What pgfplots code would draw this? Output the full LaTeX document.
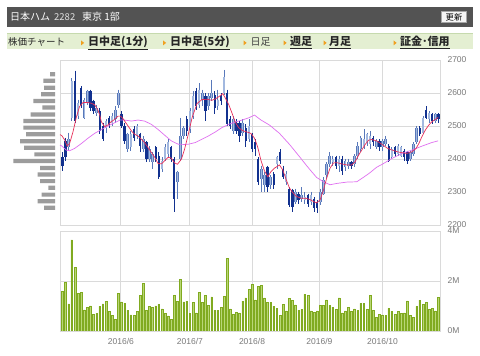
\documentclass[border=0pt]{standalone}
\usepackage{fontspec}
\setmainfont{Liberation Sans}
\newfontfamily\cjk{Noto Sans CJK JP}
\usepackage{pgfplots}
\usepackage{pgfplotstable}
\pgfplotsset{compat=1.18}

\definecolor{hdr}{HTML}{535353}
\definecolor{menubg}{HTML}{E4EFD2}
\definecolor{menuln}{HTML}{C6DAAE}
\definecolor{arrowc}{HTML}{F0A020}
\definecolor{gridc}{HTML}{DADADA}
\definecolor{tickc}{HTML}{7A7A7A}
\definecolor{upc}{HTML}{A2B8DF}
\definecolor{upw}{HTML}{5878BA}
\definecolor{dnc}{HTML}{12318F}
\definecolor{ma5}{HTML}{E8305A}
\definecolor{ma25}{HTML}{E070F0}
\definecolor{volf}{HTML}{B9D676}
\definecolor{vold}{HTML}{80AA20}
\definecolor{histc}{HTML}{9C9C9C}

\pgfplotstableread{
i O H L C
2 2435 2480 2425 2460
3 2525 2645 2515 2635
5 2530 2580 2520 2570
7 2525 2585 2520 2580
8 2570 2610 2565 2605
11 2540 2565 2530 2555
14 2495 2520 2480 2515
16 2510 2540 2500 2530
17 2520 2560 2510 2550
18 2565 2610 2555 2600
21 2430 2480 2420 2475
22 2435 2485 2425 2475
24 2470 2505 2460 2500
26 2430 2470 2420 2460
28 2400 2440 2390 2430
29 2390 2420 2370 2415
32 2370 2405 2360 2395
33 2400 2445 2395 2435
34 2415 2460 2405 2450
37 2330 2365 2280 2360
38 2400 2525 2395 2470
39 2470 2500 2460 2495
41 2490 2555 2480 2545
42 2530 2605 2520 2590
44 2565 2630 2555 2610
45 2580 2610 2560 2600
47 2560 2600 2550 2590
48 2585 2640 2575 2600
50 2560 2610 2550 2580
52 2600 2670 2595 2650
55 2485 2530 2475 2520
58 2480 2520 2470 2510
60 2460 2520 2450 2500
64 2340 2380 2300 2370
65 2320 2360 2300 2350
67 2320 2350 2310 2345
69 2385 2410 2370 2405
72 2330 2365 2320 2355
75 2270 2310 2265 2300
77 2280 2315 2270 2290
78 2275 2300 2265 2285
80 2270 2300 2260 2290
83 2270 2310 2260 2300
84 2295 2345 2290 2335
85 2350 2390 2340 2385
86 2385 2420 2375 2410
87 2390 2410 2380 2400
89 2380 2410 2360 2400
91 2375 2400 2365 2395
92 2380 2400 2370 2390
94 2385 2415 2375 2410
95 2410 2450 2400 2440
96 2430 2470 2420 2465
97 2440 2490 2430 2460
98 2450 2480 2440 2475
99 2445 2485 2430 2470
101 2435 2460 2430 2455
103 2435 2460 2425 2455
104 2445 2470 2440 2460
106 2405 2435 2400 2430
108 2415 2445 2410 2440
109 2410 2440 2405 2435
112 2400 2425 2395 2420
113 2415 2450 2410 2445
114 2450 2500 2445 2495
116 2480 2530 2475 2525
118 2520 2545 2510 2540
120 2515 2540 2510 2535
}\uptab

\pgfplotstableread{
i O H L C
0 2405 2420 2365 2380
1 2455 2465 2395 2405
4 2635 2668 2510 2515
6 2615 2620 2555 2565
9 2605 2610 2545 2555
10 2575 2580 2535 2545
12 2545 2555 2475 2485
13 2500 2510 2455 2460
15 2525 2530 2495 2505
19 2535 2545 2495 2500
20 2500 2510 2445 2455
23 2490 2500 2455 2465
25 2475 2480 2420 2440
27 2450 2455 2390 2400
30 2435 2440 2390 2400
31 2410 2420 2340 2345
35 2435 2440 2390 2400
36 2400 2405 2240 2280
40 2520 2530 2470 2485
43 2605 2615 2550 2560
46 2590 2600 2515 2545
49 2595 2605 2535 2555
51 2590 2600 2565 2575
53 2600 2610 2500 2505
54 2520 2530 2490 2500
56 2510 2520 2475 2485
57 2510 2515 2450 2470
59 2495 2505 2435 2455
61 2475 2480 2420 2430
62 2450 2460 2410 2430
63 2400 2405 2320 2330
66 2375 2380 2300 2315
68 2355 2360 2310 2320
70 2420 2430 2385 2395
71 2370 2380 2340 2345
73 2310 2315 2255 2260
74 2305 2310 2240 2255
76 2295 2300 2265 2275
79 2290 2295 2255 2265
81 2280 2285 2240 2250
82 2270 2275 2235 2250
88 2405 2410 2370 2380
90 2400 2410 2350 2365
93 2390 2395 2370 2380
100 2465 2470 2440 2450
102 2455 2460 2425 2435
105 2440 2445 2390 2395
107 2435 2440 2405 2415
110 2425 2430 2395 2405
111 2420 2425 2385 2395
115 2495 2500 2470 2475
117 2550 2560 2520 2525
119 2535 2540 2505 2515
121 2535 2540 2510 2520
}\dntab

\pgfplotstableread{
i v
0 1.59
1 1.94
2 1.08
3 3.64
4 2.54
5 1.50
6 1.55
7 0.84
8 0.95
9 1.00
10 0.67
11 0.70
12 0.98
13 1.08
14 1.19
15 0.79
16 0.63
17 0.45
18 1.50
19 1.16
20 1.11
21 0.83
22 0.64
23 0.63
24 0.79
25 1.42
26 1.91
27 0.83
28 0.98
29 0.95
30 1.00
31 1.06
32 0.88
33 0.70
34 0.60
35 0.45
36 1.42
37 1.19
38 2.05
39 1.16
40 1.19
41 0.71
42 1.14
43 0.72
44 1.55
45 1.15
46 1.43
47 1.03
48 1.36
49 0.83
50 0.83
51 0.95
52 1.39
53 2.90
54 0.88
55 0.66
56 0.74
57 0.72
58 1.19
59 1.32
60 1.67
61 1.86
62 1.24
63 1.77
64 1.82
65 1.32
66 1.15
67 1.14
68 0.99
69 0.91
70 0.63
71 1.06
72 0.80
73 1.30
74 1.22
75 1.04
76 0.83
77 0.86
78 1.46
79 1.43
80 0.80
81 0.74
82 0.80
83 1.02
84 1.02
85 1.24
86 1.03
87 0.95
88 0.86
89 1.32
90 0.72
91 0.80
92 0.94
93 0.78
94 0.88
95 0.82
96 1.10
97 1.11
98 0.86
99 1.42
100 0.83
101 0.55
102 0.66
103 0.64
104 0.62
105 0.90
106 0.78
107 0.67
108 0.78
109 0.70
110 0.72
111 1.20
112 0.62
113 0.55
114 0.98
115 1.23
116 1.06
117 1.14
118 0.86
119 0.91
120 0.80
121 1.34
}\voltab

\pgfplotstableread{
p len
2657 5.0
2637 11.7
2616 11.0
2596 14.0
2576 21.7
2556 12.7
2535 24.3
2515 31.7
2495 31.7
2475 29.0
2454 35.0
2434 31.0
2414 20.7
2394 41.7
2373 15.0
2353 17.3
2333 15.0
2313 6.7
2292 13.3
2272 17.3
2252 11.0
}\histtab

\pgfplotsset{chart/.style={
  scale only axis, width=380pt,
  xmin=-0.8, xmax=121.5,
  axis line style={draw=gridc, line width=0.8pt},
  grid=major, grid style={draw=gridc, line width=0.8pt},
  major tick length=0pt, tick style={draw=none},
  ticklabel style={font=\fontsize{8.5}{10}\selectfont, text=tickc},
  xtick={18.8,41,61,82.7,103},
  yticklabel pos=right,
  yticklabel style={xshift=4pt},
},
candle/.style={draw=none, mark=none, forget plot, error bars/.cd, y dir=minus, y explicit, error mark=none}}

\begin{document}
\begin{tikzpicture}
\path[use as bounding box, fill=white] (0pt,0pt) rectangle (480pt,356pt);
% header
\fill[hdr] (7pt,329pt) rectangle (473pt,349pt);
\node[anchor=base west, inner sep=0, text=white, font=\cjk\fontsize{10}{12}\selectfont] at (10pt,335.5pt) {日本ハム};
\node[anchor=base west, inner sep=0, text=white!88!black, font=\cjk\fontsize{9.5}{11}\selectfont] at (54pt,335.5pt) {2282};
\node[anchor=base west, inner sep=0, text=white, font=\cjk\fontsize{10}{12}\selectfont] at (82pt,335.5pt) {東京 1部};
\filldraw[fill=white!96!black, draw=white!65!black, line width=0.6pt] (441.5pt,333.5pt) rectangle (466.5pt,344.5pt);
\node[inner sep=0, text=black, font=\cjk\fontsize{8.3}{10}\selectfont] at (454pt,339pt) {更新};
% menu
\fill[menubg] (7pt,307pt) rectangle (473pt,323pt);
\draw[menuln, line width=1.5pt] (7pt,322.5pt) -- (473pt,322.5pt);
\node[anchor=base west, inner sep=0, text=black!85, font=\cjk\fontsize{9.5}{11}\selectfont] at (8pt,310.3pt) {株価チャート};
\foreach \ax in {81,163,243.5,283.5,323.5,393.5} {
  \fill[arrowc] (\ax pt,310.6pt) -- (\ax pt+3.2pt,313.1pt) -- (\ax pt,315.6pt) -- cycle;
}
\node[anchor=base west, inner sep=0, text=black!85, font=\cjk\bfseries\fontsize{11}{12}\selectfont] at (88pt,310.3pt) {\underline{日中足(1分)}};
\node[anchor=base west, inner sep=0, text=black!85, font=\cjk\bfseries\fontsize{11}{12}\selectfont] at (170pt,310.3pt) {\underline{日中足(5分)}};
\node[anchor=base west, inner sep=0, text=black!75, font=\cjk\fontsize{10}{12}\selectfont] at (250.5pt,310.3pt) {日足};
\node[anchor=base west, inner sep=0, text=black!85, font=\cjk\bfseries\fontsize{11}{12}\selectfont] at (290pt,310.3pt) {\underline{週足}};
\node[anchor=base west, inner sep=0, text=black!85, font=\cjk\bfseries\fontsize{11}{12}\selectfont] at (329pt,310.3pt) {\underline{月足}};
\node[anchor=base west, inner sep=0, text=black!85, font=\cjk\bfseries\fontsize{11}{12}\selectfont] at (400pt,310.3pt) {\underline{証金･信用}};

% volume-by-price histogram
\begin{axis}[at={(5pt,131pt)}, anchor=south west, scale only axis, width=50pt, height=165pt,
  xmin=0, xmax=50, x dir=reverse, ymin=2200, ymax=2700, hide axis,
  xbar, bar width=4.2pt, bar shift=0pt]
\addplot[fill=histc, draw=none] table[x=len, y=p] {\histtab};
\end{axis}

% price chart
\begin{axis}[chart, at={(60pt,131pt)}, anchor=south west, height=165pt,
  ymin=2200, ymax=2700, ytick={2200,2300,2400,2500,2600,2700},
  yticklabels={2200,2300,2400,2500,2600,2700}, xticklabels={}]
\addplot[candle, error bar style={draw=upw, line width=0.7pt}]
  table[x=i, y=H, y error minus expr=\thisrow{H}-\thisrow{L}] {\uptab};
\addplot[candle, error bar style={draw=dnc, line width=0.7pt}]
  table[x=i, y=H, y error minus expr=\thisrow{H}-\thisrow{L}] {\dntab};
\addplot[candle, error bar style={draw=upw, line width=2.5pt}]
  table[x=i, y=C, y error minus expr=\thisrow{C}-\thisrow{O}] {\uptab};
\addplot[candle, error bar style={draw=upc, line width=1.4pt}]
  table[x=i, y=C, y error minus expr=\thisrow{C}-\thisrow{O}] {\uptab};
\addplot[candle, error bar style={draw=dnc, line width=2.3pt}]
  table[x=i, y=O, y error minus expr=\thisrow{O}-\thisrow{C}] {\dntab};
% 25-day MA
\addplot[ma25, line width=0.7pt, mark=none] coordinates {
(-0.8,2442) (-0.16,2439) (1.2,2427) (2.3,2425) (3.9,2432) (6.1,2447) (8.2,2463) (10.4,2478)
(12.5,2489) (14.6,2500) (16.8,2510) (18.5,2518) (20,2518) (22.2,2515) (24.3,2518) (26.4,2515)
(28.6,2505) (30.7,2490) (32.9,2472) (35.0,2455) (37.2,2445) (39.3,2444) (40.6,2445) (42.8,2450)
(44.9,2460) (47.0,2470) (49.2,2482) (51.3,2495) (53.5,2505) (55.6,2512) (57.8,2518) (60.0,2525)
(61.8,2533) (63.9,2518) (66.6,2503) (69.8,2478) (73.0,2445) (76.2,2408) (78.4,2382) (79.7,2367)
(81.8,2344) (84.0,2331) (86.1,2322) (88.3,2326) (91.5,2330) (94.7,2331) (96.8,2344) (98.9,2358)
(101.1,2375) (102.9,2384) (106.1,2402) (109.3,2417) (112.5,2427) (115.7,2439) (118.9,2450) (120.9,2455)};
% 5-day MA
\addplot[ma5, line width=0.7pt, mark=none] coordinates {
(-0.8,2474) (-0.16,2470) (0.7,2458) (1.5,2439) (2.3,2447) (3.4,2483) (4.5,2528) (5.5,2559) (6.6,2571)
(8.2,2571) (9.3,2569) (10.4,2564) (11.4,2548) (12,2533) (12.5,2513) (13.6,2498) (14.6,2503)
(15.7,2513) (16.8,2520) (17.9,2530) (18.7,2530) (19.5,2522) (21.1,2500) (22.2,2485) (23.2,2475)
(24.3,2470) (25.4,2460) (26.4,2450) (27.5,2435) (28.6,2420) (29.7,2405) (30.7,2387) (31.8,2385)
(32.9,2395) (34.0,2405) (35.0,2403) (36.1,2388) (37.0,2384) (38.3,2400) (39.3,2430) (40.5,2475)
(41.7,2525) (43.3,2568) (44.9,2580) (46.5,2581) (48.1,2578) (49.2,2582) (50.5,2590) (51.6,2598)
(52.4,2585) (53.5,2565) (54.6,2538) (55.6,2512) (56.7,2495) (57.8,2487) (58.9,2483) (60.0,2480)
(60.7,2477) (61.8,2463) (62.8,2437) (63.9,2395) (65.0,2364) (66.1,2346) (67.1,2362) (68.2,2372)
(69.8,2382) (70.9,2367) (71.9,2340) (73.0,2313) (74.1,2298) (75.2,2287) (76.8,2281) (78.4,2281)
(79.7,2277) (80.8,2271) (81.8,2267) (82.9,2276) (84.0,2306) (85.0,2341) (86.1,2372) (87.2,2388)
(88.3,2389) (89.9,2385) (91.5,2382) (93.1,2382) (94.2,2392) (95.2,2410) (96.3,2427) (97.4,2444)
(98.5,2457) (99.5,2459) (101.1,2455) (102.9,2444) (104.5,2433) (106.1,2427) (107.7,2422)
(109.3,2419) (110.9,2417) (112.5,2422) (113.8,2432) (114.7,2447) (115.7,2468) (116.8,2488)
(117.9,2503) (118.9,2513) (120.0,2520) (120.9,2526)};
\end{axis}

% volume chart
\begin{axis}[chart, at={(60pt,25pt)}, anchor=south west, height=100pt,
  ymin=0, ymax=4, ytick={0,2,4}, yticklabels={0M,2M,4M},
  xticklabels={2016/6,2016/7,2016/8,2016/9,2016/10},
  xticklabel style={yshift=-3.5pt},
  ybar, bar width=1.7pt, bar shift=0pt]
\addplot[fill=volf, draw=vold, line width=0.5pt] table[x=i, y=v] {\voltab};
\end{axis}
\end{tikzpicture}
\end{document}
